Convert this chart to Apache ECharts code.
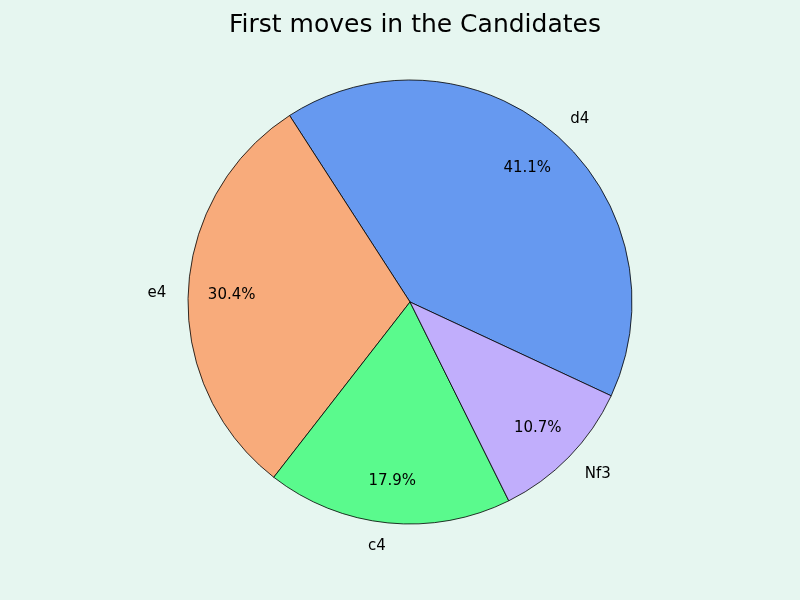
<!DOCTYPE html>
<html>
<head>
<meta charset="utf-8">
<script src="https://cdn.jsdelivr.net/npm/echarts@6/dist/echarts.min.js"></script>
<style>html,body{margin:0;padding:0;background:#E6F6F0;}#c{width:800px;height:600px;}</style>
</head>
<body>
<div id="c"></div>
<script>
const categories = ['d4', 'e4', 'c4', 'Nf3'];
const values = [23, 17, 10, 6];
const colors = ['#6699F0', '#F8AB7B', '#5AFA8D', '#C1AEFC'];

const font = 'DejaVu Sans';
const total = values.reduce((a, b) => a + b, 0);
const data = categories.map((c, i) => ({ name: c, value: values[i], itemStyle: { color: colors[i] } }));
const dataPct = categories.map((c, i) => ({ name: c, value: values[i] }));

const chart = echarts.init(document.getElementById('c'));
chart.setOption({
  backgroundColor: '#E6F6F0',
  animation: false,
  title: {
    text: 'First moves in the Candidates',
    left: 410,
    textAlign: 'center',
    top: 8,
    textStyle: { fontFamily: font, fontSize: 25, fontWeight: 'normal', color: '#000' }
  },
  series: [
    {
      type: 'pie',
      center: [410, 302],
      radius: [0, 222],
      startAngle: -25,
      clockwise: false,
      avoidLabelOverlap: false,
      silent: true,
      data: data,
      itemStyle: { borderColor: '#000', borderWidth: 0.8 },
      label: {
        show: true,
        position: 'outside',
        formatter: '{b}',
        fontFamily: font,
        fontSize: 15,
        color: '#000',
        distanceToLabelLine: 0,
        offset: [0, 1.5]
      },
      labelLine: { show: false, length: 22, length2: 0 }
    },
    {
      type: 'pie',
      center: [410, 302],
      radius: [129, 222],
      startAngle: -25,
      clockwise: false,
      avoidLabelOverlap: false,
      silent: true,
      data: dataPct,
      itemStyle: { color: 'transparent', borderWidth: 0 },
      label: {
        show: true,
        position: 'inside',
        formatter: p => (p.value / total * 100).toFixed(1) + '%',
        fontFamily: font,
        fontSize: 15,
        color: '#000',
        offset: [0, 1]
      },
      labelLine: { show: false }
    }
  ]
});
</script>
</body>
</html>
